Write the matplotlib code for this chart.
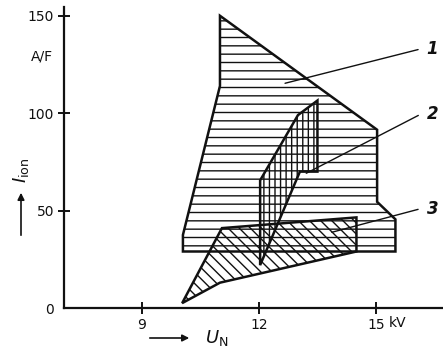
import matplotlib
matplotlib.use('Agg')
import matplotlib.pyplot as plt
from matplotlib.patches import Polygon

# region outlines, (U_N in kV, I_ion in A/F)
region1_u = [11.0, 11.0, 10.05, 10.05, 15.5, 15.5, 15.03, 15.03]
region1_i = [150.0, 114.0, 37.5, 29.0, 29.0, 45.5, 54.5, 91.5]
region2_u = [12.03, 13.0, 13.5, 13.5, 13.05, 12.03]
region2_i = [65.5, 99.0, 106.5, 70.0, 70.0, 22.0]
region3_u = [10.03, 11.05, 14.5, 14.5, 11.0]
region3_i = [2.5, 41.0, 46.5, 29.0, 13.0]

x_ticks = [9, 12, 15]
y_ticks = [0, 50, 100, 150]
region_labels = ['1', '2', '3']
# where each leader line starts inside its region and where the number sits
label_from = [(12.6, 115), (13.15, 68.5), (13.8, 38.5)]
label_to = [(16.3, 133), (16.3, 99.5), (16.3, 51)]

plt.rcParams['font.family'] = ['DejaVu Sans']
plt.rcParams['hatch.linewidth'] = 1.0
plt.rcParams['hatch.color'] = '#222222'

fig = plt.figure(figsize=(4.43, 3.53), dpi=100)
ax = fig.add_axes([64 / 443, 45 / 353, 379 / 443, 301 / 353])
ax.set_xlim(7, 16.72)
ax.set_ylim(0, 154.5)

hatches = ['--', '|||', '\\\\\\']
for us, ys, h in zip([region1_u, region2_u, region3_u],
                     [region1_i, region2_i, region3_i], hatches):
    p = Polygon(list(zip(us, ys)), closed=True, fill=False, hatch=h,
                edgecolor='#111111', linewidth=1.8)
    ax.add_patch(p)

for lab, a, b in zip(region_labels, label_from, label_to):
    ax.annotate('', xy=a, xytext=(b[0] - 0.15, b[1]),
                arrowprops=dict(arrowstyle='-', color='#111111', lw=1.0))
    ax.text(b[0], b[1], lab, fontsize=12, style='italic', fontweight='bold',
            ha='left', va='center', color='#111111')

for s in ['top', 'right']:
    ax.spines[s].set_visible(False)
for s in ['left', 'bottom']:
    ax.spines[s].set_linewidth(1.6)
    ax.spines[s].set_color('#111111')

ax.set_xticks(x_ticks)
ax.set_xticklabels([str(t) for t in x_ticks])
ax.set_yticks(y_ticks)
ax.set_yticklabels([str(t) for t in y_ticks])
ax.tick_params(direction='inout', length=8, width=1.4, labelsize=10,
               colors='#111111', pad=3)
ax.yaxis.get_major_ticks()[0].tick1line.set_visible(False)
ax.tick_params(axis='x', pad=3)

# unit labels
fig.text(398 / 443, 1 - 323 / 353, 'kV', fontsize=10, ha='center',
         va='center', color='#111111')
fig.text(42 / 443, 1 - 57 / 353, 'A/F', fontsize=10, ha='center',
         va='center', color='#111111')

# axis titles with arrows
fig.text(205 / 443, 1 - 338 / 353, r'$U_{\mathrm{N}}$', fontsize=13,
         ha='left', va='center', color='#111111')
ax.annotate('', xy=(192 / 443, 1 - 338 / 353), xytext=(147 / 443, 1 - 338 / 353),
            xycoords='figure fraction', textcoords='figure fraction',
            arrowprops=dict(arrowstyle='-|>', color='#111111', lw=1.2,
                            mutation_scale=10))
fig.text(21 / 443, 1 - 170 / 353, r'$I_{\mathrm{ion}}$', fontsize=13,
         rotation=90, ha='center', va='center', color='#111111')
ax.annotate('', xy=(21 / 443, 1 - 190 / 353), xytext=(21 / 443, 1 - 238 / 353),
            xycoords='figure fraction', textcoords='figure fraction',
            arrowprops=dict(arrowstyle='-|>', color='#111111', lw=1.2,
                            mutation_scale=10))

fig.savefig('out.png', dpi=100)
